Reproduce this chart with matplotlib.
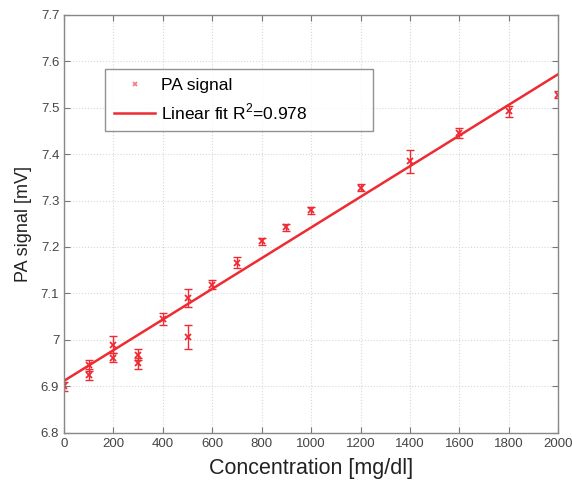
import numpy as np
import matplotlib
matplotlib.use('Agg')
import matplotlib.pyplot as plt

# data
conc = [0, 100, 100, 200, 200, 300, 300, 400, 500, 500,
        600, 700, 800, 900, 1000, 1200, 1400, 1600, 1800, 2000]
signal = [6.900, 6.945, 6.925, 6.990, 6.962, 6.968, 6.950, 7.045, 7.090, 7.006,
          7.119, 7.166, 7.212, 7.242, 7.279, 7.328, 7.384, 7.445, 7.492, 7.528]
err = [0.010, 0.012, 0.012, 0.018, 0.010, 0.012, 0.012, 0.013, 0.020, 0.026,
       0.010, 0.012, 0.008, 0.008, 0.008, 0.008, 0.025, 0.010, 0.012, 0.008]
fit_intercept = 6.912
fit_slope = 0.000330
fit_label = 'Linear fit R$^2$=0.978'

red = '#ee2b33'

plt.rcParams['font.family'] = ['Liberation Sans', 'DejaVu Sans']
plt.rcParams['mathtext.fontset'] = 'custom'
plt.rcParams['mathtext.rm'] = 'Liberation Sans'

fig = plt.figure(figsize=(5.72, 4.88), dpi=100, facecolor='w')
ax = fig.add_axes([0.112, 0.113, 0.864, 0.857])

ax.errorbar(conc, signal, yerr=err, fmt='none', ecolor=red, elinewidth=1.0,
            capsize=3, capthick=1.0)
ax.plot(conc, signal, 'x', color=red, ms=5, mew=1.3, label='PA signal')
xf = np.array([0, 2000])
ax.plot(xf, fit_intercept + fit_slope * xf, '-', color=red, lw=1.8, label=fit_label)

ax.set_xlim(0, 2000)
ax.set_ylim(6.8, 7.7)
ax.set_xticks(np.arange(0, 2001, 200))
ax.set_yticks(np.arange(6.8, 7.71, 0.1))
ax.set_yticklabels(['6.8', '6.9', '7', '7.1', '7.2', '7.3', '7.4', '7.5', '7.6', '7.7'])
ax.grid(True, ls=':', color='#d8d8d8', lw=0.8)
ax.tick_params(direction='in', top=True, right=True, labelsize=9.5,
               labelcolor='#444444', color='#777777', length=4)
for s in ax.spines.values():
    s.set_color('#888888')
    s.set_linewidth(1.0)

ax.set_xlabel('Concentration [mg/dl]', fontsize=15.5, color='#222222', labelpad=6)
ax.set_ylabel('PA signal [mV]', fontsize=13, color='#222222', labelpad=6)

leg = ax.legend(loc='upper left', bbox_to_anchor=(0.083, 0.0, 0.542, 0.870),
                mode='expand', borderaxespad=0, fontsize=12.5,
                frameon=True, fancybox=False, edgecolor='#777777',
                handlelength=2.4, handletextpad=0.3, borderpad=0.5,
                labelspacing=0.5)
leg.get_frame().set_linewidth(1.0)
leg.legend_handles[0].set_markersize(3)
leg.legend_handles[0].set_alpha(0.6)

fig.savefig('out.png', dpi=100)
